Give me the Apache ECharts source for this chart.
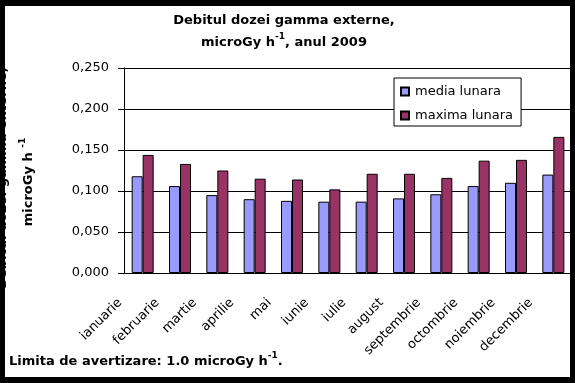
<!DOCTYPE html>
<html>
<head>
<meta charset="utf-8">
<script src="https://cdn.jsdelivr.net/npm/echarts@6/dist/echarts.min.js"></script>
<style>
html,body{margin:0;padding:0;background:#fff;}
#c{width:575px;height:383px;}
</style>
</head>
<body>
<div id="c"></div>
<script>
var months = ['ianuarie','februarie','martie','aprilie','mai','iunie','iulie','august','septembrie','octombrie','noiembrie','decembrie'];
var mediaLunara = [0.118, 0.106, 0.095, 0.090, 0.088, 0.087, 0.087, 0.091, 0.096, 0.106, 0.110, 0.120];
var maximaLunara = [0.144, 0.133, 0.125, 0.115, 0.114, 0.102, 0.121, 0.121, 0.116, 0.137, 0.138, 0.166];
var seriesNames = ['media lunara', 'maxima lunara'];
var yMin = 0, yMax = 0.25, yStep = 0.05;

var FONT = 'DejaVu Sans';
var chart = echarts.init(document.getElementById('c'), null, {renderer:'canvas'});
var boldRich = {
  b: {fontFamily: FONT, fontWeight: 'bold', fontSize: 13, lineHeight: 22, color: '#000'},
  s: {fontFamily: FONT, fontWeight: 'bold', fontSize: 9, lineHeight: 10, verticalAlign: 'top', color: '#000'}
};
chart.setOption({
  animation: false,
  backgroundColor: '#fff',
  grid: {left: 124, right: 3, top: 68, bottom: 110, containLabel: false},
  legend: {
    orient: 'vertical',
    left: 394, top: 78,
    padding: [7, 8, 4, 6],
    itemWidth: 8, itemHeight: 8, itemGap: 11,
    backgroundColor: '#fff',
    borderColor: '#000', borderWidth: 1,
    textStyle: {fontFamily: FONT, fontSize: 13, color: '#000', padding: [0,0,0,1]},
    icon: 'rect',
    data: seriesNames
  },
  xAxis: {
    type: 'category',
    data: months,
    axisLine: {lineStyle: {color: '#000', width: 1}},
    axisTick: {length: 5, lineStyle: {color: '#000'}},
    axisLabel: {
      rotate: 45, interval: 0, margin: 5,
      fontFamily: FONT, fontSize: 13, color: '#000',
      padding: [0, 32, 0, 0]
    },
    splitLine: {show: false}
  },
  yAxis: {
    type: 'value',
    min: yMin, max: yMax, interval: yStep,
    axisLine: {show: true, lineStyle: {color: '#000', width: 1}},
    axisTick: {show: true, length: 6, lineStyle: {color: '#000'}},
    axisLabel: {
      margin: 15, fontFamily: FONT, fontSize: 13, color: '#000',
      formatter: function (v) { return v.toFixed(3).replace('.', ','); }
    },
    splitLine: {lineStyle: {color: '#000', width: 1}}
  },
  series: [
    {
      name: seriesNames[0], type: 'bar', data: mediaLunara,
      barWidth: 11, barGap: '0%',
      itemStyle: {color: '#9999FF', borderColor: '#000', borderWidth: 1}
    },
    {
      name: seriesNames[1], type: 'bar', data: maximaLunara,
      barWidth: 11, barGap: '0%',
      itemStyle: {color: '#993366', borderColor: '#000', borderWidth: 1}
    }
  ],
  graphic: [
    {
      type: 'text', x: 284, y: 10, z: 50,
      style: {
        text: '{b|Debitul dozei gamma externe,}\n{b|microGy h}{s|-1}{b|, anul 2009}',
        rich: boldRich, align: 'center', verticalAlign: 'top'
      }
    },
    {
      type: 'text', x: 3, y: 178, rotation: Math.PI / 2, z: 50,
      style: {
        text: '{b|Debitul dozei gamma externe,}',
        rich: boldRich, align: 'center', verticalAlign: 'middle'
      }
    },
    {
      type: 'text', x: 29, y: 182, rotation: Math.PI / 2, z: 50,
      style: {
        text: '{b|microGy h }{s|-1}',
        rich: boldRich, align: 'center', verticalAlign: 'middle'
      }
    },
    {
      type: 'text', x: 9, y: 362, z: 50,
      style: {
        text: '{b|Limita de avertizare: 1.0 microGy h}{s|-1}{b|.}',
        rich: boldRich, align: 'left', verticalAlign: 'middle'
      }
    },
    {type: 'rect', z: 100, shape: {x: 0, y: 0, width: 575, height: 6}, style: {fill: '#000'}},
    {type: 'rect', z: 100, shape: {x: 0, y: 0, width: 5, height: 383}, style: {fill: '#000'}},
    {type: 'rect', z: 100, shape: {x: 570, y: 0, width: 5, height: 383}, style: {fill: '#000'}},
    {type: 'rect', z: 100, shape: {x: 0, y: 377, width: 575, height: 6}, style: {fill: '#000'}}
  ]
});
</script>
</body>
</html>
